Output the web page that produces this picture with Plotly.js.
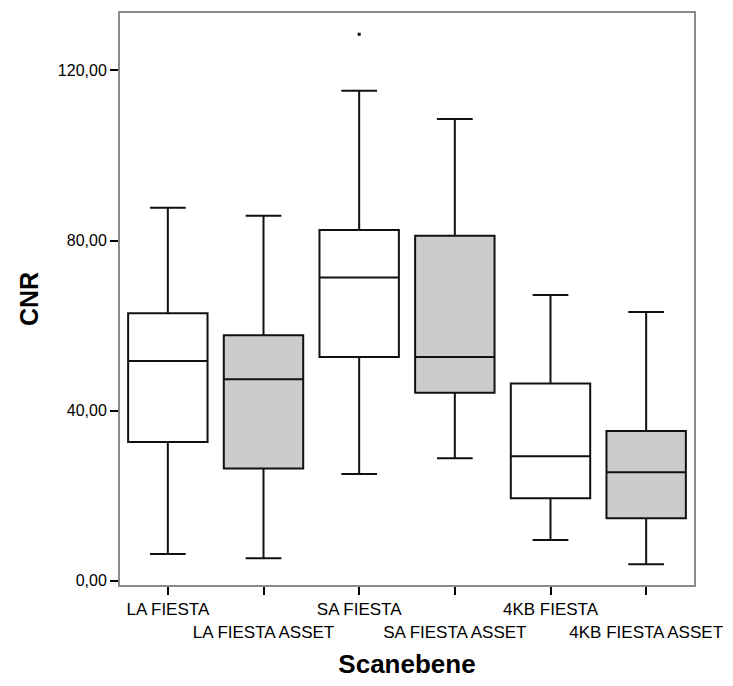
<!DOCTYPE html>
<html>
<head>
<meta charset="utf-8">
<script src="https://cdn.plot.ly/plotly-3.0.1.min.js"></script>
<style>html,body{margin:0;padding:0;background:#fff;}#chart{width:733px;height:686px;}</style>
</head>
<body>
<div id="chart"></div>
<script>
var categories = ['LA FIESTA','LA FIESTA ASSET','SA FIESTA','SA FIESTA ASSET','4KB FIESTA','4KB FIESTA ASSET'];
var lowerWhisker = [6.3, 5.3, 25.1, 28.8, 9.6, 3.9];
var q1Values = [32.6, 26.4, 52.6, 44.2, 19.4, 14.7];
var medianValues = [51.7, 47.4, 71.3, 52.6, 29.3, 25.5];
var q3Values = [62.9, 57.7, 82.5, 81.1, 46.4, 35.2];
var upperWhisker = [87.7, 85.8, 115.2, 108.6, 67.2, 63.2];
var outlierCategories = ['SA FIESTA'];
var outlierValues = [128.5];
var yTickValues = [0, 40, 80, 120];

function pick(arr, idx) { return idx.map(function(i){ return arr[i]; }); }
function boxTrace(idx, fill) {
  return {
    type: 'box',
    x: pick(categories, idx),
    q1: pick(q1Values, idx),
    median: pick(medianValues, idx),
    q3: pick(q3Values, idx),
    lowerfence: pick(lowerWhisker, idx),
    upperfence: pick(upperWhisker, idx),
    fillcolor: fill,
    line: {color: '#111111', width: 2},
    width: 0.83,
    whiskerwidth: 0.45,
    boxpoints: false,
    hoverinfo: 'skip',
    showlegend: false
  };
}
var traces = [
  boxTrace([0, 2, 4], '#ffffff'),
  boxTrace([1, 3, 5], '#cccccc'),
  {
    type: 'scatter', mode: 'markers',
    x: outlierCategories, y: outlierValues,
    marker: {symbol: 'square', size: 3, color: '#000000'},
    showlegend: false, hoverinfo: 'skip'
  }
];
var tickText = categories.map(function(c, i){ return i % 2 === 1 ? '&nbsp;<br>' + c : c; });
var layout = {
  width: 733, height: 686,
  margin: {l: 120, r: 39, t: 13, b: 101},
  paper_bgcolor: '#ffffff', plot_bgcolor: '#ffffff',
  separators: ',.',
  boxmode: 'overlay',
  font: {family: 'Liberation Sans, Arial, sans-serif', color: '#000000', size: 15},
  xaxis: {
    type: 'category',
    categoryorder: 'array', categoryarray: categories,
    tickvals: categories, ticktext: tickText,
    tickangle: 0,
    range: [-0.5, 5.5],
    showline: true, linecolor: '#8a8a8a', linewidth: 2, mirror: true,
    ticks: 'outside', ticklen: 8, tickwidth: 2, tickcolor: '#000000',
    showgrid: false, zeroline: false,
    tickfont: {size: 17},
    title: {text: 'Scanebene', font: {size: 26, family: 'Liberation Sans, Arial, sans-serif', weight: 'bold'}, standoff: 14}
  },
  yaxis: {
    range: [-1.0, 133.5],
    tickvals: yTickValues, tickformat: '.2f',
    showline: true, linecolor: '#8a8a8a', linewidth: 2, mirror: true,
    ticks: 'outside', ticklen: 8, tickwidth: 2, tickcolor: '#000000',
    showgrid: false, zeroline: false,
    tickfont: {size: 16},
    title: {text: 'CNR', font: {size: 25, family: 'Liberation Sans, Arial, sans-serif', weight: 'bold'}, standoff: 12}
  }
};
Plotly.newPlot('chart', traces, layout, {staticPlot: true, displayModeBar: false});
</script>
</body>
</html>
